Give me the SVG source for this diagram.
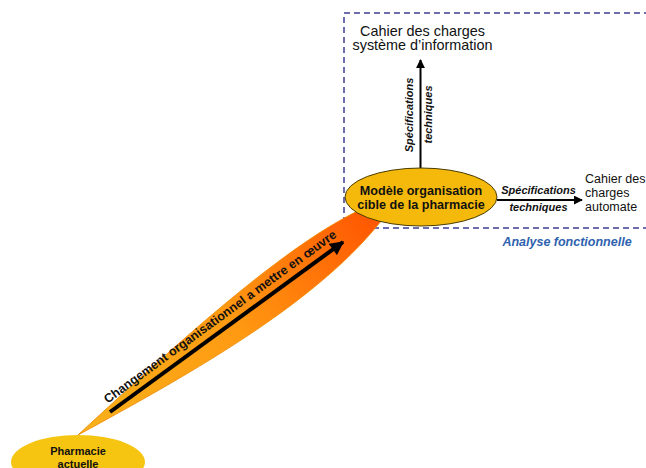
<svg xmlns="http://www.w3.org/2000/svg" width="646" height="468" viewBox="0 0 646 468">
<style>
text{font-family:"Liberation Sans",Arial,sans-serif;fill:#111}
.b{font-weight:bold}
.bi{font-weight:bold;font-style:italic;font-size:11px}
.r{font-size:12.5px}
.m{text-anchor:middle}
</style>
<defs>
<linearGradient id="g" gradientUnits="userSpaceOnUse" x1="0" y1="0" x2="380" y2="0">
<stop offset="0" stop-color="#F7B21A"/>
<stop offset="0.5" stop-color="#FF9A12"/>
<stop offset="1" stop-color="#FF5200"/>
</linearGradient>
<marker id="ah" viewBox="0 0 10 10" refX="9" refY="5" markerUnits="userSpaceOnUse" markerWidth="9" markerHeight="9" orient="auto">
<path d="M0,0 L10,5 L0,10 Z" fill="#000"/>
</marker>
<marker id="ahb" viewBox="0 0 10 10" refX="9" refY="5" markerUnits="userSpaceOnUse" markerWidth="15" markerHeight="14" orient="auto">
<path d="M0,0 L10,5 L0,10 Z" fill="#000"/>
</marker>
</defs>
<g id="zone-analyse">
<rect x="344" y="13" width="320" height="215" fill="none" stroke="#3E3E92" stroke-width="1.5" stroke-dasharray="6,4"/>
<text x="567" y="246" class="m" style="font-weight:bold;font-style:italic;font-size:12.5px;fill:#2E62AE">Analyse fonctionnelle</text>
</g>
<g id="changement">
<path transform="translate(78,435) rotate(-36.1)" d="M0,0 C170,-20 330,-36 400,-4 C300,36 150,20 0,0 Z" fill="url(#g)" stroke="#F08A00" stroke-width="0.8"/>
</g>
<g id="connectors">
<line x1="110" y1="412" x2="343" y2="242" stroke="#000" stroke-width="4" marker-end="url(#ahb)"/>
<line x1="420.5" y1="168" x2="420.5" y2="60" stroke="#000" stroke-width="2" marker-end="url(#ah)"/>
<line x1="497" y1="200" x2="582" y2="200" stroke="#000" stroke-width="2" marker-end="url(#ah)"/>
<text transform="translate(110,412) rotate(-36.1)" x="3" y="-8" class="b" style="font-size:12.5px">Changement organisationnel a mettre en œuvre</text>
<text transform="translate(413,115) rotate(-90)" class="bi m">Spécifications</text>
<text transform="translate(431.5,114.5) rotate(-90)" class="bi m">techniques</text>
<text x="538.5" y="194" class="bi m">Spécifications</text>
<text x="538.5" y="211" class="bi m">techniques</text>
</g>
<g id="modele-cible">
<ellipse cx="421" cy="197" rx="76" ry="29" fill="#F5B90C" stroke="#4A3C00" stroke-width="1"/>
<text x="421" y="195" class="b m" style="font-size:12.6px">Modèle organisation</text>
<text x="421" y="208.5" class="b m" style="font-size:12.6px">cible de la pharmacie</text>
</g>
<g id="pharmacie-actuelle">
<ellipse cx="78" cy="462" rx="67" ry="27" fill="#F5C512"/>
<text x="78" y="455" class="b m" style="font-size:11px">Pharmacie</text>
<text x="78" y="468" class="b m" style="font-size:11px">actuelle</text>
</g>
<g id="cdc-si">
<text x="422.5" y="35.5" class="m" style="font-size:14.4px">Cahier des charges</text>
<text x="422.5" y="50" class="m" style="font-size:14.4px">système d’information</text>
</g>
<g id="cdc-automate">
<text x="585" y="183" class="r">Cahier des</text>
<text x="585" y="197" class="r">charges</text>
<text x="585" y="211" class="r">automate</text>
</g>
</svg>
